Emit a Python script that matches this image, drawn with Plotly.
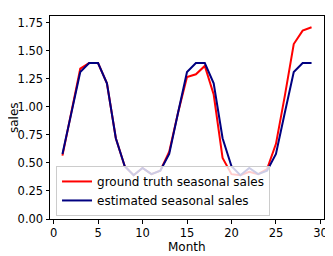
import plotly.graph_objects as go

months = list(range(1, 30))
ground_truth = [0.565, 0.94, 1.34, 1.39, 1.39, 1.21, 0.72, 0.47, 0.39, 0.455, 0.40, 0.43,
                0.60, 0.95, 1.265, 1.29, 1.365, 1.11, 0.545, 0.40, 0.39, 0.42, 0.40, 0.445,
                0.67, 1.10, 1.56, 1.68, 1.71]
estimated = [0.58, 0.95, 1.31, 1.39, 1.39, 1.21, 0.72, 0.47, 0.39, 0.455, 0.40, 0.43,
             0.58, 0.95, 1.31, 1.39, 1.39, 1.21, 0.72, 0.47, 0.39, 0.455, 0.40, 0.43,
             0.58, 0.95, 1.31, 1.39, 1.39]
x_ticks = [0, 5, 10, 15, 20, 25, 30]
y_ticks = [0.0, 0.25, 0.5, 0.75, 1.0, 1.25, 1.5, 1.75]

FONT = "DejaVu Sans"

fig = go.Figure()
fig.add_trace(go.Scatter(x=months, y=ground_truth, mode="lines",
                         name="ground truth seasonal sales",
                         line=dict(color="#ff0000", width=2)))
fig.add_trace(go.Scatter(x=months, y=estimated, mode="lines",
                         name="estimated seasonal sales",
                         line=dict(color="#000080", width=2)))

axis_common = dict(showline=True, linecolor="black", linewidth=1, mirror=True,
                   ticks="outside", ticklen=3.5, tickcolor="black", tickwidth=1,
                   showgrid=False, zeroline=False, ticklabeloverflow="allow",
                   tickfont=dict(family=FONT, size=11.5, color="black"))

# The page body adds an 8px margin, so the figure is 8px smaller than the window.
fig.update_layout(
    width=325, height=248,
    margin=dict(l=41.5, r=8.5, t=8, b=36.5, autoexpand=False),
    plot_bgcolor="white", paper_bgcolor="white",
    font=dict(family=FONT, size=12, color="black"),
    xaxis=dict(range=[-0.4, 30.4], tickvals=x_ticks, ticktext=[str(v) for v in x_ticks],
               **axis_common),
    yaxis=dict(range=[0, 1.81], tickvals=y_ticks, ticktext=[f"{v:.2f}" for v in y_ticks],
               **axis_common),
    legend=dict(x=0.022, y=0.015, xanchor="left", yanchor="bottom",
                bgcolor="rgba(255,255,255,0.8)", bordercolor="#cccccc", borderwidth=1,
                font=dict(family=FONT, size=12, color="black"),
                tracegroupgap=0, itemwidth=30),
    showlegend=True,
    annotations=[
        dict(text="Month", xref="paper", yref="paper", x=0.5, y=0, yshift=-28,
             xanchor="center", yanchor="middle", showarrow=False,
             font=dict(family=FONT, size=12, color="black")),
        dict(text="sales", xref="paper", yref="paper", x=0, y=0.5, xshift=-36.5,
             xanchor="center", yanchor="middle", showarrow=False, textangle=-90,
             font=dict(family=FONT, size=12, color="black")),
    ],
)

fig.write_html("out.html")
